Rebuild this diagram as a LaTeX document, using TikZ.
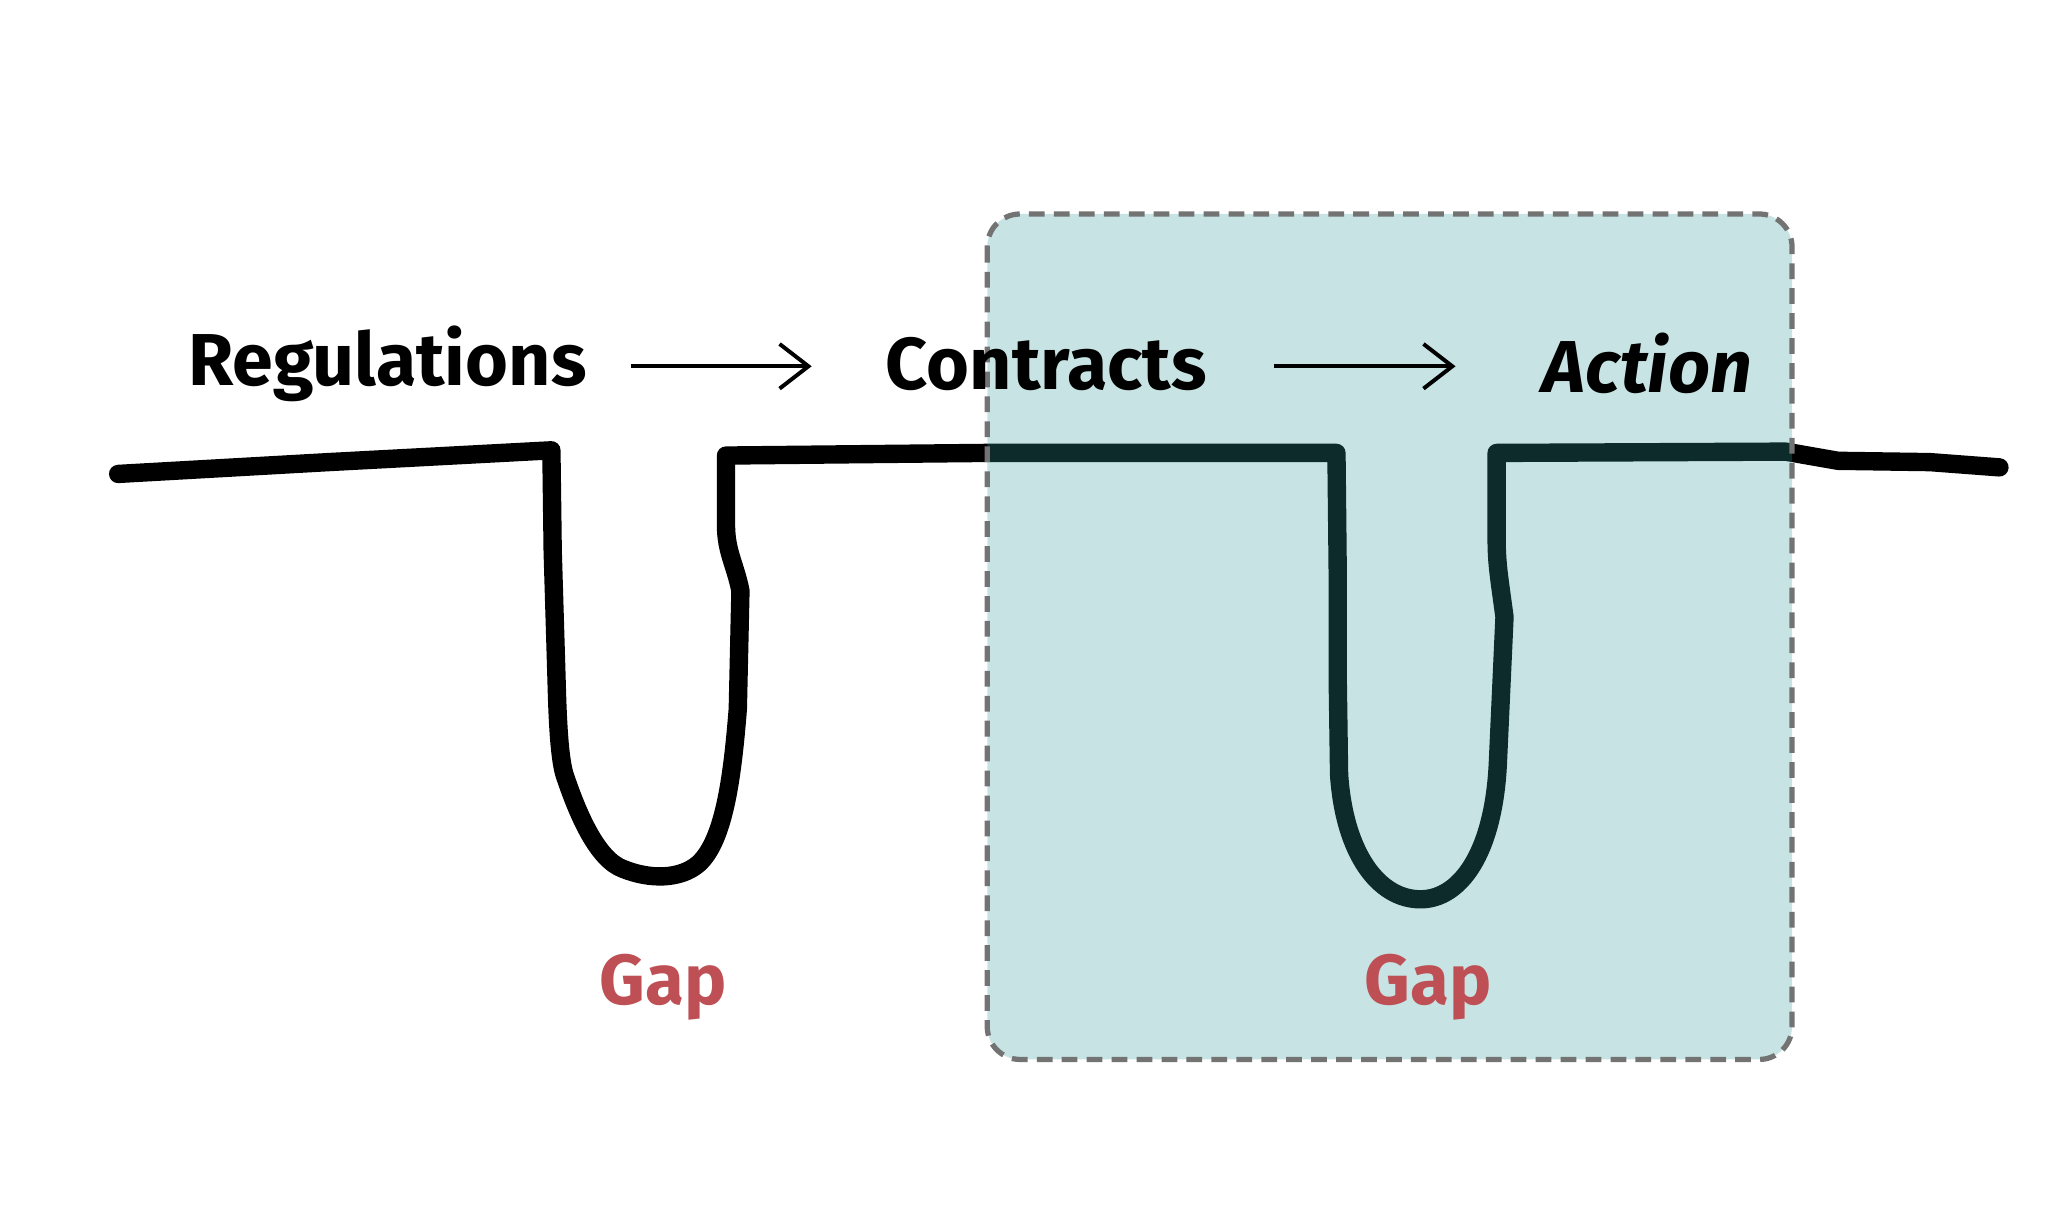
\documentclass[tikz,border=0pt]{standalone}
\usepackage{fontspec}
\setmainfont{Fira Sans}
\usetikzlibrary{arrows.meta}
\definecolor{gapred}{RGB}{190,80,85}
\definecolor{boxfill}{RGB}{53,156,156}
\begin{document}
\begin{tikzpicture}[x=1pt,y=-1pt,
  lbl/.style={font=\fontsize{56}{60}\selectfont\bfseries},
  gap/.style={font=\fontsize{54}{60}\selectfont\bfseries,text=gapred},
  arr/.style={-{Straight Barb[length=22pt,width=34pt,line width=3pt]},line width=3pt},
  ground/.style={line width=14pt,line join=round,line cap=round}]
\useasboundingbox (0,0) rectangle (1560,937);
\draw[ground] (90,361) -- (250,352) -- (420,343) -- (421,420) -- (424,520)
  .. controls (425,560) and (427,580) .. (430,590)
  .. controls (440,620) and (455,655) .. (475,662)
  .. controls (495,670) and (518,670) .. (532,658)
  .. controls (552,640) and (558,590) .. (562,540) -- (564,450)
  .. controls (560,430) and (553,420) .. (553,400) -- (553,347)
  -- (750,345) -- (1018,345) -- (1019,440) -- (1019,520) -- (1020,590)
  .. controls (1024,650) and (1050,685) .. (1082,685)
  .. controls (1112,685) and (1138,650) .. (1141,580) -- (1146,470)
  .. controls (1142,440) and (1140,430) .. (1140,410) -- (1140,345)
  -- (1360,344) -- (1400,351) -- (1470,352) -- (1523,356);
\fill[boxfill,opacity=0.28,rounded corners=25pt] (752,163) rectangle (1365,807);
\draw[black!55,line width=4pt,dash pattern=on 12pt off 7pt,rounded corners=25pt] (752,163) rectangle (1365,807);
\node[lbl] (reg) at (295,277) {Regulations};
\node[lbl] (con) at (797,277) {Contracts};
\node[lbl,font=\fontsize{56}{60}\selectfont\bfseries\itshape] (act) at (1255,277) {Action};
\draw[arr] (reg.east)++(30,2) coordinate (a1) -- ++(138,0) coordinate (a2);
\draw[arr] (con.east)++(48,2) coordinate (b1) -- ++(138,0) coordinate (b2);
\node[gap] (g1) at (505,752) {Gap};
\node[gap] (g2) at (1088,752) {Gap};
\end{tikzpicture}
\end{document}
